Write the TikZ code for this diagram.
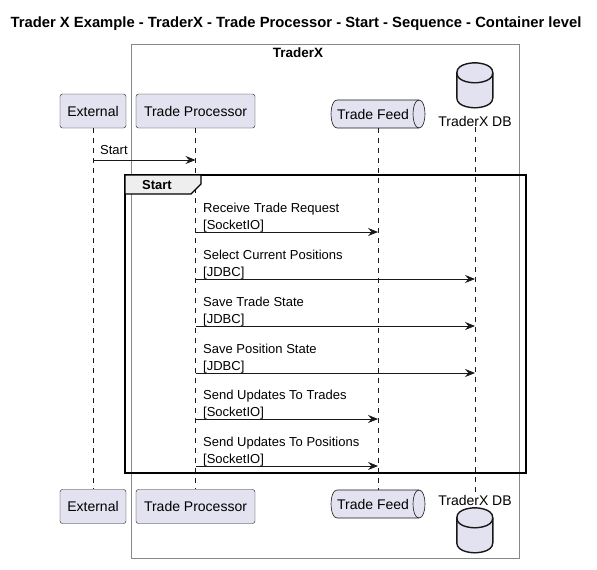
\documentclass[tikz,border=0pt]{standalone}
\usepackage{fontspec}
\setmainfont{Liberation Sans}
\usetikzlibrary{positioning,arrows.meta}
\definecolor{PartFill}{HTML}{E2E2F0}
\definecolor{PartLine}{HTML}{181818}
\definecolor{BoxLine}{HTML}{888888}
\definecolor{TabFill}{HTML}{EEEEEE}

\tikzset{
  queue/.pic={
    \path[draw=PartLine, fill=PartFill, line width=0.6pt]
      (6,0) -- (88,0) .. controls (96,0) and (96,28) .. (88,28) -- (6,28)
      .. controls (-2,28) and (-2,0) .. (6,0) -- cycle;
    \draw[PartLine, line width=0.6pt] (88,0) .. controls (80,0) and (80,28) .. (88,28);
  },
  drum/.pic={
    \path[draw=PartLine, fill=PartFill, line width=1.4pt]
      (0,10) .. controls (0,0) and (18,0) .. (18,0) .. controls (18,0) and (36,0) .. (36,10)
      -- (36,35) .. controls (36,45) and (18,45) .. (18,45) .. controls (18,45) and (0,45) .. (0,35)
      -- cycle;
    \draw[PartLine, line width=1.4pt] (0,10) .. controls (0,20) and (18,20) .. (18,20)
      .. controls (18,20) and (36,20) .. (36,10);
  }
}

\begin{document}
\begin{tikzpicture}[x=1pt, y=-1pt, every node/.style={font=\fontsize{13}{16}\selectfont}]
    \tikzstyle{participant}=[draw=PartLine, fill=PartFill, rounded corners=2.5pt,
                             minimum height=34pt, inner sep=0pt, font=\fontsize{14}{16}\selectfont]
    \tikzstyle{feed}=[inner sep=0pt, minimum width=94pt, minimum height=28pt,
                      font=\fontsize{14}{16}\selectfont]
    \tikzstyle{dbslot}=[inner sep=0pt, minimum width=36pt, minimum height=45pt]
    \tikzstyle{lifeline}=[draw=PartLine, dash pattern=on 5pt off 5pt, line width=0.5pt]
    \tikzstyle{msg}=[draw=PartLine, line width=0.8pt, -{Stealth[length=10pt, width=8pt, inset=3.5pt]}]
    \tikzstyle{msglbl}=[anchor=south west, align=left, inner sep=0pt, font=\fontsize{13}{17}\selectfont]

    \useasboundingbox (0,0) rectangle (597,570);

    % title and enclosing box
    \node[font=\bfseries\fontsize{14.8}{17}\selectfont] (title) at (296,24)
        {Trader X Example - TraderX - Trade Processor - Start - Sequence - Container level};
    \draw[BoxLine, line width=0.8pt] (131,44) rectangle (519,558);
    \node[font=\bfseries\fontsize{13.5}{16}\selectfont] (boxlbl) at (298,53) {TraderX};

    % participants, top
    \node[participant, minimum width=66pt] (extTop) at (93,111) {External};
    \node[participant, minimum width=119pt] (tpTop) at (195.5,111) {Trade Processor};
    \pic at (331,100) {queue};
    \node[feed] (feedTop) at (378,114) {\hspace*{-10pt}Trade Feed};
    \node[dbslot] (dbTop) at (475,85.5) {};
    \pic at (dbTop.north west) {drum};
    \node[font=\fontsize{14}{16}\selectfont, inner sep=1pt] (dbTopLbl) at (475,121) {TraderX DB};

    % participants, bottom
    \node[participant, minimum width=66pt] (extBot) at (93,506.5) {External};
    \node[participant, minimum width=119pt] (tpBot) at (195.5,506.5) {Trade Processor};
    \pic at (331,490) {queue};
    \node[feed] (feedBot) at (378,504) {\hspace*{-10pt}Trade Feed};
    \node[font=\fontsize{14}{16}\selectfont, inner sep=1pt] (dbBotLbl) at (475,500) {TraderX DB};
    \node[dbslot] (dbBot) at (475,530.5) {};
    \pic at (dbBot.north west) {drum};

    % lifelines
    \draw[lifeline] (extTop) -- (extBot);
    \draw[lifeline] (tpTop) -- (tpBot);
    \draw[lifeline] (feedTop) -- (feedBot);
    \draw[lifeline] (dbTopLbl) -- (dbBotLbl);

    % start message
    \draw[msg] (extTop.south |- 0,160) -- (tpTop.south |- 0,160);
    \node[msglbl] (startlbl) at (100,155) {Start};

    % group frame
    \draw[black, line width=1.5pt] (125,175) rectangle (526,473);
    \draw[black, line width=1.2pt, fill=TabFill] (125,175) -- (201,175) -- (201,184)
        -- (191,194) -- (125,194) -- cycle;
    \node[font=\bfseries\fontsize{13}{16}\selectfont] (grplbl) at (157,185) {Start};

    % messages inside the group
    \foreach \y/\dst/\la/\lb [count=\i] in {
        232/feedTop/Receive Trade Request/SocketIO,
        279/dbTopLbl/Select Current Positions/JDBC,
        326/dbTopLbl/Save Trade State/JDBC,
        373/dbTopLbl/Save Position State/JDBC,
        419/feedTop/Send Updates To Trades/SocketIO,
        466/feedTop/Send Updates To Positions/SocketIO} {
        \draw[msg] (tpTop.south |- 0,\y) -- (\dst.south |- 0,\y);
        \node[msglbl] (lbl\i) at (203,\y) {\la\\{}[\lb]};
    }
\end{tikzpicture}
\end{document}
